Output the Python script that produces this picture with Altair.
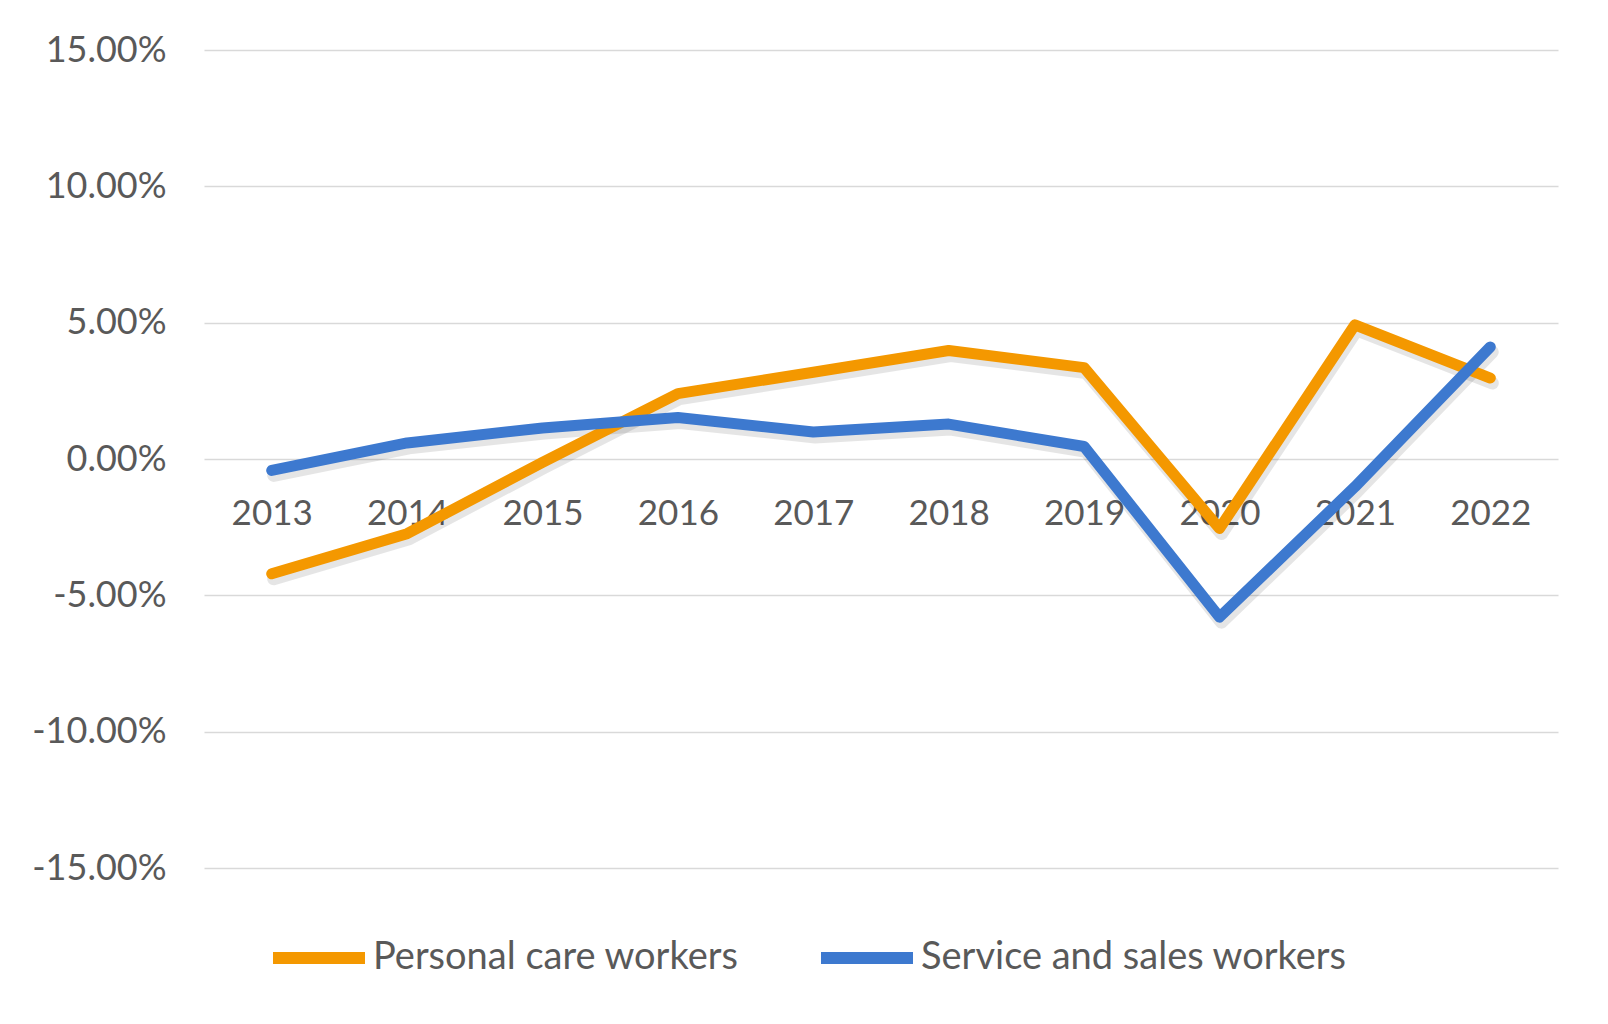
import altair as alt
import pandas as pd

years = ["2013", "2014", "2015", "2016", "2017", "2018", "2019", "2020", "2021", "2022"]
personal_care = [-4.21, -2.74, -0.12, 2.40, 3.18, 3.98, 3.35, -2.55, 4.92, 2.97]
service_sales = [-0.42, 0.59, 1.14, 1.52, 0.99, 1.28, 0.46, -5.80, -1.02, 4.11]
series_names = ["Personal care workers", "Service and sales workers"]
series_colors = ["#F49800", "#3D79CF"]
y_ticks = [-15, -10, -5, 0, 5, 10, 15]

rows = []
for name, vals in zip(series_names, [personal_care, service_sales]):
    for yr, v in zip(years, vals):
        rows.append({"year": yr, "series": name, "value": v})
df = pd.DataFrame(rows)

FONT = "Lato"
GRAY = "#595959"

x = alt.X(
    "year:O",
    sort=years,
    scale=alt.Scale(type="point", padding=0.5),
    axis=alt.Axis(
        title=None, labelAngle=0, ticks=False, tickSize=0, domain=False, grid=False,
        labelFontSize=35, labelFont=FONT, labelColor=GRAY, labelPadding=37, offset=-409,
    ),
)
y = alt.Y(
    "value:Q",
    scale=alt.Scale(domain=[-15, 15], nice=False, zero=False),
    axis=alt.Axis(
        title=None, values=y_ticks, ticks=False, tickSize=0, domain=False,
        labelFontSize=36, labelFont=FONT, labelColor=GRAY, labelPadding=38,
        gridColor="#D9D9D9", gridWidth=1.5,
        labelExpr="(datum.value < 0 ? '-' : '') + format(abs(datum.value), '.2f') + '%'",
    ),
)
color = alt.Color(
    "series:N",
    scale=alt.Scale(domain=series_names, range=series_colors),
    legend=alt.Legend(
        title=None, orient="none", legendX=63, legendY=856, direction="horizontal",
        symbolType="stroke", symbolSize=8464, symbolStrokeWidth=12,
        labelFontSize=38, labelFont=FONT, labelColor=GRAY, labelOffset=2,
        columnPadding=58, padding=0, labelLimit=800,
    ),
)

shadow = alt.Chart(df).mark_line(
    color="black", opacity=0.10, strokeWidth=13, strokeCap="round", strokeJoin="round",
    xOffset=2, yOffset=5,
).encode(x=x, y=y, detail="series:N")

lines = alt.Chart(df).mark_line(
    strokeWidth=11, strokeCap="round", strokeJoin="round"
).encode(x=x, y=y, color=color)

chart = alt.layer(shadow, lines).properties(
    width=1354,
    height=818,
    padding={"left": 196, "top": 42, "right": 40, "bottom": 140},
    autosize=alt.AutoSizeParams(type="none"),
    background="white",
).configure_view(stroke=None)

chart.save("out.html", embed_options={"renderer": "svg", "actions": False})
